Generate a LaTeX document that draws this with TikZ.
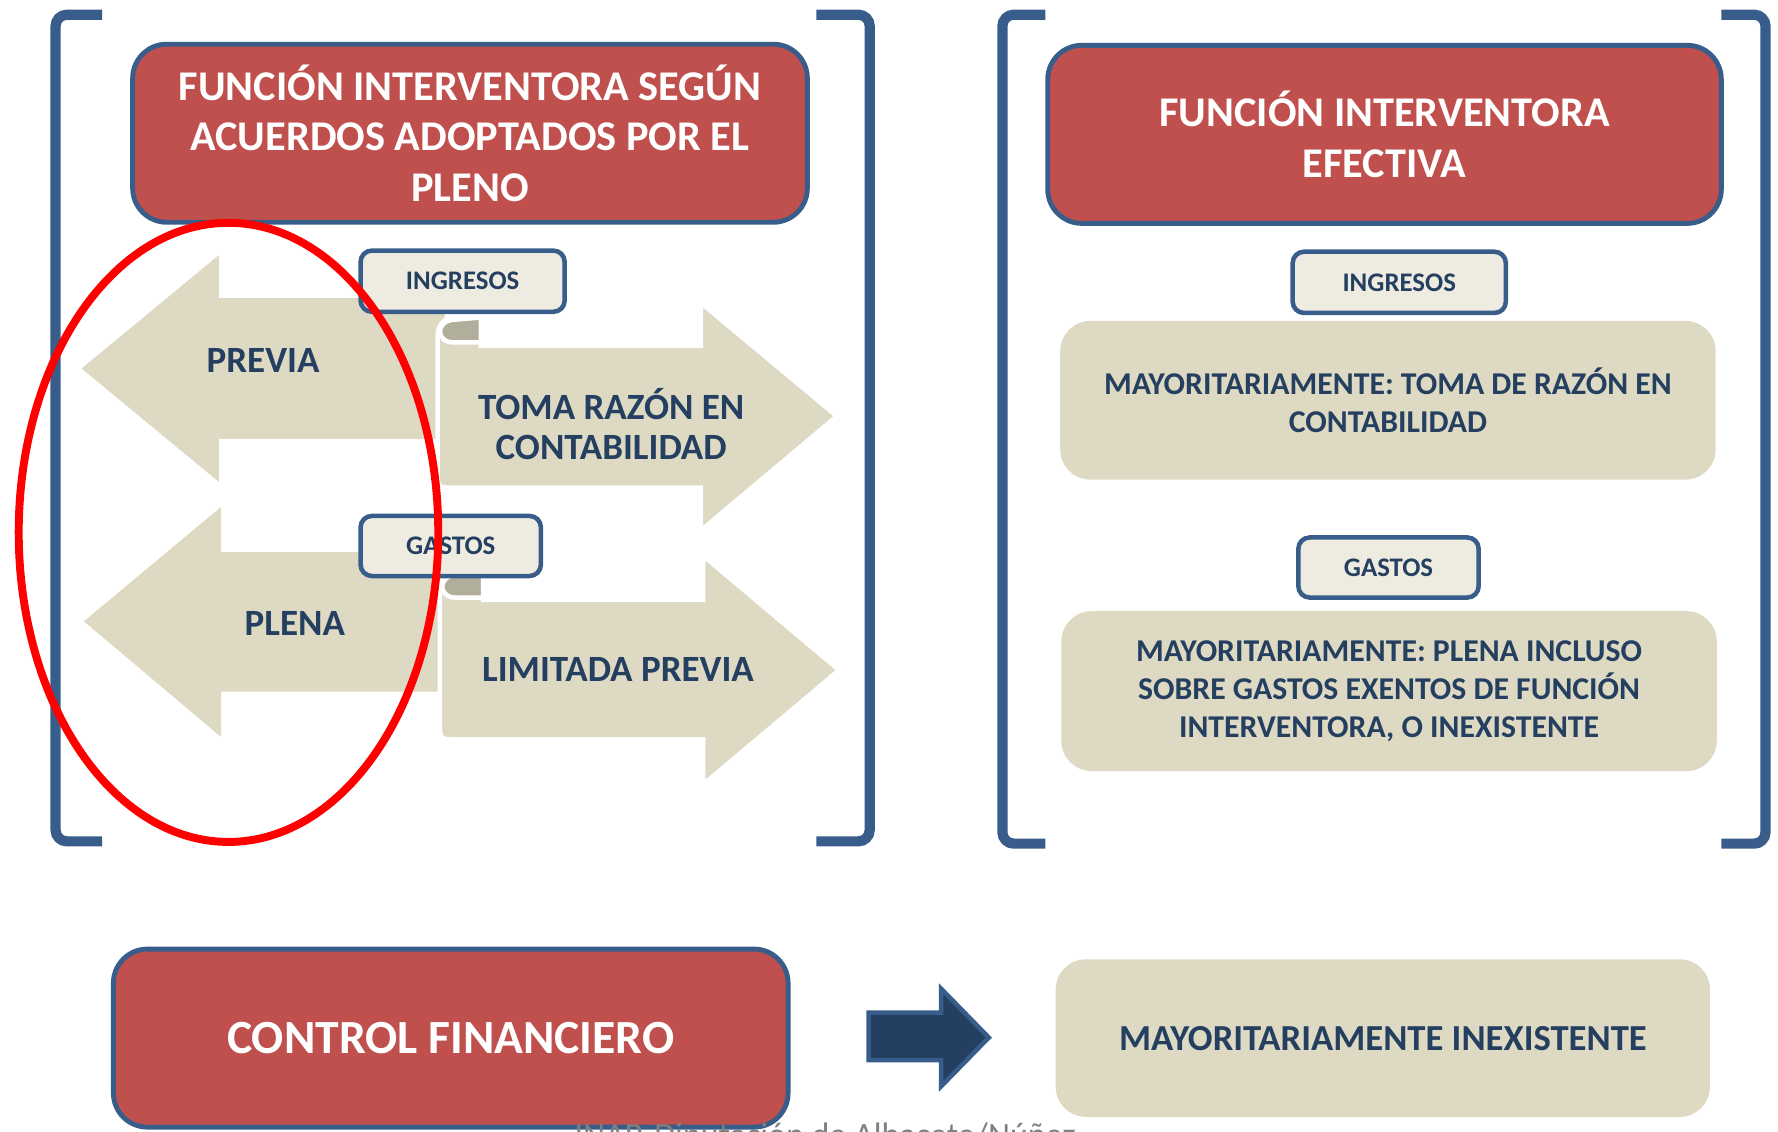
\documentclass[tikz,border=0pt]{standalone}
\usepackage{fontspec}
\setmainfont{Carlito}
\definecolor{boxred}{HTML}{C0504D}
\definecolor{edgeblue}{HTML}{385D8A}
\definecolor{sand}{HTML}{DDD9C3}
\definecolor{tagfill}{HTML}{EEECE1}
\definecolor{navy}{HTML}{243F60}
\definecolor{curlgray}{HTML}{B2AE9C}

\begin{document}
\begin{tikzpicture}[x=0.3pt, y=-0.3pt,
    redbox/.style={draw=edgeblue, line width=1.3pt, fill=boxred, rounded corners=9pt,
        text=white, align=center, inner sep=0pt, font=\bfseries\fontsize{11.2}{13.4}\selectfont},
    tagbox/.style={draw=edgeblue, line width=1.2pt, fill=tagfill, rounded corners=3pt,
        text=navy, inner sep=0pt, font=\bfseries\fontsize{7.1}{8}\selectfont},
    sandbox/.style={fill=sand, rounded corners=8pt, text=navy, align=center, inner sep=0pt,
        font=\bfseries\fontsize{8.4}{10.1}\selectfont},
    bigarrow/.style={fill=sand},
    ribbon/.style={fill=sand, draw=white, line width=1.2pt},
    curl/.style={fill=curlgray, draw=white, line width=1.2pt},
    bracket/.style={draw=edgeblue, line width=2.7pt, rounded corners=3pt},
    lbl/.style={text=navy, align=center, font=\bfseries\fontsize{9.8}{10.5}\selectfont}
]
    \useasboundingbox (0,0) rectangle (1568,998);

    % brackets
    \draw[bracket] (90,13) -- (49,13) -- (49,742) -- (90,742);
    \draw[bracket] (720,13) -- (767,13) -- (767,742) -- (720,742);
    \draw[bracket] (922,13) -- (884,13) -- (884,744) -- (922,744);
    \draw[bracket] (1518,13) -- (1557,13) -- (1557,744) -- (1518,744);

    % titles
    \node[redbox, minimum width=178.5pt, minimum height=47.1pt] (titleL) at (414.5,117.5)
        {FUNCIÓN INTERVENTORA SEGÚN\\ACUERDOS ADOPTADOS POR EL\\PLENO};
    \node[redbox, minimum width=178.2pt, minimum height=47.1pt] (titleR) at (1221,118.5)
        {FUNCIÓN INTERVENTORA\\EFECTIVA};

    % left arrows
    \fill[bigarrow] (72,325) -- (193,225) -- (193,263) -- (392,263) -- (392,387)
        -- (193,387) -- (193,425) -- cycle;
    \fill[bigarrow] (74,548) -- (195,447) -- (195,487) -- (392,487) -- (392,610)
        -- (195,610) -- (195,650) -- cycle;

    % right arrows
    \filldraw[ribbon] (424,305) -- (618,305) -- (618,267) -- (738,367) -- (618,468)
        -- (618,430) -- (394,430) .. controls (388,430) and (386,428) .. (386,422)
        -- (386,296) .. controls (386,286) and (392,280) .. (404,279) -- (424,278) -- cycle;
    \filldraw[curl] (424,280) -- (424,302) -- (400,302) .. controls (384,302) and (384,283)
        .. (400,282) -- cycle;
    \filldraw[ribbon] (426,529) -- (620,529) -- (620,490) -- (740,591) -- (620,692)
        -- (620,652) -- (396,652) .. controls (390,652) and (388,650) .. (388,644)
        -- (388,518) .. controls (388,509) and (394,505) .. (406,504) -- (426,503) -- cycle;
    \filldraw[curl] (426,505) -- (426,527) -- (402,527) .. controls (386,527) and (386,508)
        .. (402,507) -- cycle;

    \node[lbl] (previa) at (232,318) {PREVIA};
    \node[lbl] (toma) at (539,374) {TOMA RAZÓN EN\\CONTABILIDAD};
    \node[lbl] (plena) at (260,550) {PLENA};
    \node[lbl] (limitada) at (545,590) {LIMITADA PREVIA};

    % tags
    \node[tagbox, minimum width=54pt, minimum height=16.2pt] (ingL) at (408,248) {INGRESOS};
    \node[tagbox, minimum width=47.7pt, minimum height=15.9pt] (gasL) at (397.5,481.5) {GASTOS};
    \node[tagbox, minimum width=56.4pt, minimum height=16.2pt] (ingR) at (1234,249) {INGRESOS};
    \node[tagbox, minimum width=47.7pt, minimum height=15.9pt] (gasR) at (1224.5,500.5) {GASTOS};

    % right boxes
    \node[sandbox, minimum width=173.4pt, minimum height=42pt] (boxA) at (1224,353)
        {MAYORITARIAMENTE: TOMA DE RAZÓN EN\\CONTABILIDAD};
    \node[sandbox, minimum width=173.4pt, minimum height=42.3pt] (boxB) at (1225,609.5)
        {MAYORITARIAMENTE: PLENA INCLUSO\\SOBRE GASTOS EXENTOS DE FUNCIÓN\\INTERVENTORA, O INEXISTENTE};

    % red ellipse
    \draw[red, line width=2.1pt] (201.5,469.5) ellipse [x radius=185, y radius=273];

    % bottom row
    \node[redbox, minimum width=178.5pt, minimum height=47.1pt,
        font=\bfseries\fontsize{12.6}{14}\selectfont] (control) at (397.5,915.5) {CONTROL FINANCIERO};
    \filldraw[fill=navy, draw=edgeblue, line width=1.2pt] (766,893) -- (830,893) -- (830,872)
        -- (872,915) -- (830,958) -- (830,935) -- (766,935) -- cycle;
    \node[sandbox, minimum width=173.1pt, minimum height=41.7pt,
        font=\bfseries\fontsize{9.7}{11}\selectfont] (boxC) at (1219.5,915.5) {MAYORITARIAMENTE INEXISTENTE};

    \node[anchor=base west, text=gray, font=\fontsize{9}{10}\selectfont, inner sep=0pt]
        (foot) at (506,1011) {INAP. Diputación de Albacete/Núñez};
\end{tikzpicture}
\end{document}
